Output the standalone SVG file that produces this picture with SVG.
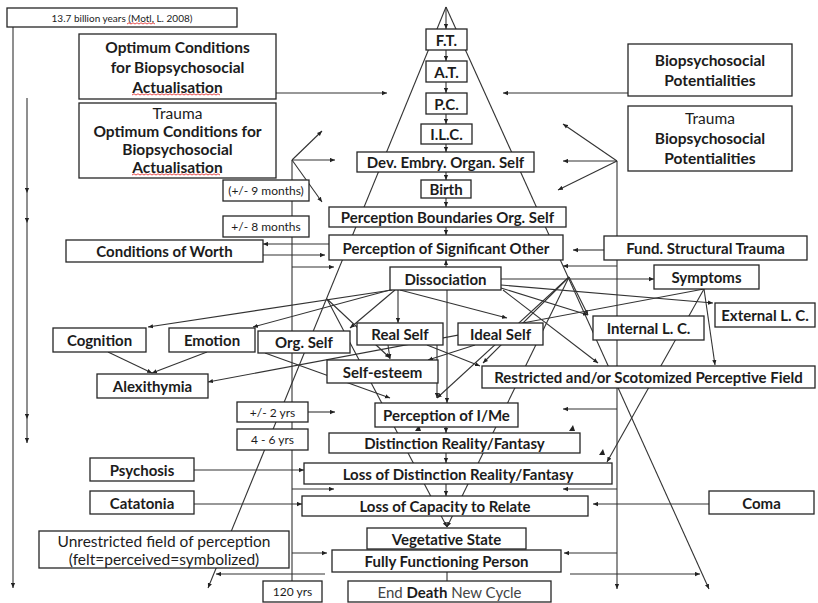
<svg xmlns="http://www.w3.org/2000/svg" width="818" height="603" viewBox="0 0 818 603">
<style>
  .bx { fill: #fff; stroke: #262626; stroke-width: 1.3; }
  .c { fill: none; stroke: #333; stroke-width: 1.1; }
  .a { marker-end: url(#ah); }
  text { font-family: Lato, "Liberation Sans", sans-serif; fill: #1c1c1c; text-anchor: middle; dominant-baseline: central; }
  .b { font-weight: bold; font-size: 15px; }
  .bl { font-weight: bold; font-size: 15.5px; }
  .r { font-size: 15.5px; }
  .s { font-size: 12px; }
  .xs { font-size: 10px; }
  .g { fill: #444; font-size: 15px; }
  .sq { fill: none; stroke: #e02020; stroke-width: 0.8; }
  .tri { fill: #222; }
</style>
<defs>
  <marker id="ah" viewBox="0 0 8 8" refX="8" refY="4" markerWidth="5" markerHeight="5" orient="auto" markerUnits="userSpaceOnUse">
    <path d="M0,0.6 L8,4 L0,7.4 z" fill="#222"/>
  </marker>
</defs>

<rect width="818" height="603" fill="#fff"/>

<!-- connectors, drawn under the boxes -->
<g id="connectors">
  <!-- time axes -->
  <path class="c a" d="M13,27 V588"/>
  <path class="c a" d="M27,98 V193"/>
  <path class="c a" d="M27,193 V223"/>
  <path class="c a" d="M27,223 V419"/>
  <path class="c a" d="M27,419 V443"/>

  <!-- outer pyramid -->
  <path class="c a" d="M446,7 L208,588"/>
  <path class="c a" d="M446,7 L709,589"/>
  <path class="c a" d="M446,7 V29"/>

  <!-- central chain -->
  <path class="c a" d="M446,50 V61"/>
  <path class="c a" d="M446,82 V93"/>
  <path class="c a" d="M446,114 V124"/>
  <path class="c a" d="M446,144 V152"/>
  <path class="c a" d="M446,172 V180"/>
  <path class="c a" d="M446,198 V207"/>
  <path class="c a" d="M446,227 V235"/>
  <path class="c a" d="M446,267 V260"/>
  <path class="c a" d="M447,290 V403"/>
  <path class="c a" d="M446,427 V433"/>
  <path class="c a" d="M446,453 V463"/>
  <path class="c a" d="M446,484 V496"/>
  <path class="c" d="M447,572 V581"/>

  <!-- side inputs at the top -->
  <path class="c a" d="M276,93 H387"/>
  <path class="c a" d="M628,93 H503"/>

  <!-- left and right time rails with their branches -->
  <path class="c" d="M292,160 V581"/>
  <path class="c a" d="M292,160 L322,131"/>
  <path class="c a" d="M292,160 H335"/>
  <path class="c a" d="M292,160 L322,202"/>
  <path class="c a" d="M617,161 V589"/>
  <path class="c a" d="M617,161 L563,124"/>
  <path class="c a" d="M617,161 H563"/>
  <path class="c a" d="M617,161 L558,190"/>

  <!-- conditions of worth / fundamental trauma -->
  <path class="c a" d="M329,244 H263"/>
  <path class="c a" d="M263,255 H325"/>
  <path class="c a" d="M292,267 H334"/>
  <path class="c a" d="M604,250 H573"/>
  <path class="c a" d="M617,266 H563"/>
  <path class="c a" d="M501,279 H654"/>

  <!-- fan out of dissociation -->
  <path class="c a" d="M392,290 L148,327"/>
  <path class="c a" d="M390,290 L253,327"/>
  <path class="c a" d="M395,290 L350,328"/>
  <path class="c a" d="M398,290 V323"/>
  <path class="c a" d="M400,290 L507,318"/>
  <path class="c a" d="M503,290 L598,363"/>
  <path class="c a" d="M501,288 L588,315"/>
  <path class="c a" d="M501,285 L713,303"/>

  <!-- inner funnel and its branches -->
  <path class="c a" d="M327,299 L447,527"/>
  <path class="c a" d="M569,277 L447,527"/>
  <path class="c a" d="M327,299 L390,358"/>
  <path class="c a" d="M569,277 L437,398"/>
  <path class="c a" d="M569,277 L483,363"/>
  <path class="c a" d="M569,277 L588,315"/>

  <!-- symptoms -->
  <path class="c a" d="M704,289 L208,382"/>
  <path class="c a" d="M704,289 L715,365"/>
  <path class="c a" d="M704,289 L607,462"/>

  <!-- self row -->
  <path class="c a" d="M108,352 L152,373"/>
  <path class="c a" d="M207,352 L152,373"/>
  <path class="c a" d="M265,353 L390,398"/>
  <path class="c a" d="M388,345 L390,359"/>
  <path class="c a" d="M475,345 L428,360"/>
  <path class="c a" d="M437,345 V398"/>
  <path class="c a" d="M427,345 L480,366"/>

  <!-- lower left inputs -->
  <path class="c a" d="M308,412 H335"/>
  <path class="c a" d="M194,470 H304"/>
  <path class="c a" d="M292,489 H334"/>
  <path class="c a" d="M194,504 H302"/>
  <path class="c a" d="M292,553 H327"/>
  <path class="c a" d="M325,574 H216"/>

  <!-- lower right inputs -->
  <path class="c a" d="M617,409 H563"/>
  <path class="c a" d="M617,489 H563"/>
  <path class="c a" d="M709,504 H593"/>
  <path class="c a" d="M617,553 H564"/>
  <path class="c a" d="M570,574 H700"/>

  <!-- loose arrowheads -->
  <path class="tri" d="M415,431 L419,425 L421,431 z"/>
  <path class="tri" d="M569,431 L573,425 L575,431 z"/>
  <path class="tri" d="M599,455 L603,449 L605,455 z"/>
</g>

<!-- nodes -->
<g id="years"><rect class="bx" x="7" y="8" width="230" height="19"/><text class="xs" x="122" y="17.5">13.7 billion years (Motl, L. 2008)</text><path class="sq" d="M127,24 l2,-1.2 2,1.2 2,-1.2 2,1.2 2,-1.2 2,1.2 2,-1.2 2,1.2 2,-1.2 2,1.2 2,-1.2 2,1.2 2,-1.2 2,1.2"/></g>

<g id="optimum"><rect class="bx" x="79" y="34" width="197" height="65"/>
  <text class="bl" x="177.5" y="47">Optimum Conditions</text>
  <text class="bl" x="177.5" y="67">for Biopsychosocial</text>
  <text class="bl" x="177.5" y="87">Actualisation</text>
  <path class="sq" d="M132,95 l2,-1.2 2,1.2 2,-1.2 2,1.2 2,-1.2 2,1.2 2,-1.2 2,1.2 2,-1.2 2,1.2 2,-1.2 2,1.2 2,-1.2 2,1.2 2,-1.2 2,1.2 2,-1.2 2,1.2 2,-1.2 2,1.2 2,-1.2 2,1.2 2,-1.2 2,1.2 2,-1.2 2,1.2 2,-1.2 2,1.2 2,-1.2 2,1.2 2,-1.2 2,1.2 2,-1.2 2,1.2 2,-1.2 2,1.2 2,-1.2 2,1.2 2,-1.2 2,1.2 2,-1.2 2,1.2 2,-1.2 2,1.2"/>
</g>

<g id="trauma-optimum"><rect class="bx" x="79" y="103" width="197" height="75"/>
  <text class="r" x="177.5" y="113">Trauma</text>
  <text class="bl" x="177.5" y="131">Optimum Conditions for</text>
  <text class="bl" x="177.5" y="149">Biopsychosocial</text>
  <text class="bl" x="177.5" y="167">Actualisation</text>
  <path class="sq" d="M132,175 l2,-1.2 2,1.2 2,-1.2 2,1.2 2,-1.2 2,1.2 2,-1.2 2,1.2 2,-1.2 2,1.2 2,-1.2 2,1.2 2,-1.2 2,1.2 2,-1.2 2,1.2 2,-1.2 2,1.2 2,-1.2 2,1.2 2,-1.2 2,1.2 2,-1.2 2,1.2 2,-1.2 2,1.2 2,-1.2 2,1.2 2,-1.2 2,1.2 2,-1.2 2,1.2 2,-1.2 2,1.2 2,-1.2 2,1.2 2,-1.2 2,1.2 2,-1.2 2,1.2 2,-1.2 2,1.2 2,-1.2 2,1.2"/>
</g>

<g id="potentialities"><rect class="bx" x="628" y="44" width="164" height="52"/>
  <text class="bl" x="710" y="60">Biopsychosocial</text>
  <text class="bl" x="710" y="80">Potentialities</text>
</g>

<g id="trauma-potentialities"><rect class="bx" x="628" y="106" width="164" height="65"/>
  <text class="r" x="710" y="118">Trauma</text>
  <text class="bl" x="710" y="138">Biopsychosocial</text>
  <text class="bl" x="710" y="158">Potentialities</text>
</g>

<g id="ft"><rect class="bx" x="426" y="29" width="41" height="21"/><text class="b" x="446.5" y="39.5">F.T.</text></g>
<g id="at"><rect class="bx" x="426" y="61" width="41" height="21"/><text class="b" x="446.5" y="71.5">A.T.</text></g>
<g id="pc"><rect class="bx" x="426" y="93" width="41" height="21"/><text class="b" x="446.5" y="103.5">P.C.</text></g>
<g id="ilc"><rect class="bx" x="421" y="124" width="51" height="20"/><text class="b" x="446.5" y="134">I.L.C.</text></g>
<g id="dev"><rect class="bx" x="357" y="152" width="177" height="20"/><text class="b" x="445.5" y="162">Dev. Embry. Organ. Self</text></g>
<g id="birth"><rect class="bx" x="421" y="180" width="50" height="18"/><text class="b" x="446" y="189">Birth</text></g>
<g id="perception-boundaries"><rect class="bx" x="329" y="207" width="237" height="20"/><text class="b" x="447.5" y="217">Perception Boundaries Org. Self</text></g>
<g id="significant-other"><rect class="bx" x="329" y="235" width="234" height="25"/><text class="b" x="446" y="247.5">Perception of Significant Other</text></g>
<g id="dissociation"><rect class="bx" x="390" y="267" width="111" height="23"/><text class="b" x="445.5" y="278.5">Dissociation</text></g>

<g id="conditions-of-worth"><rect class="bx" x="66" y="240" width="197" height="22"/><text class="b" x="164.5" y="251">Conditions of Worth</text></g>
<g id="nine-months"><rect class="bx" x="223" y="180" width="86" height="21"/><text class="s" x="266" y="190.5">(+/- 9 months)</text></g>
<g id="eight-months"><rect class="bx" x="223" y="216" width="86" height="21"/><text class="s" x="266" y="226.5">+/- 8 months</text></g>

<g id="fund-trauma"><rect class="bx" x="604" y="236" width="203" height="24"/><text class="b" x="705.5" y="248">Fund. Structural Trauma</text></g>
<g id="symptoms"><rect class="bx" x="654" y="265" width="105" height="24"/><text class="b" x="706.5" y="277">Symptoms</text></g>
<g id="external-lc"><rect class="bx" x="715" y="303" width="100" height="24"/><text class="b" x="765" y="315">External L. C.</text></g>
<g id="internal-lc"><rect class="bx" x="593" y="316" width="111" height="24"/><text class="b" x="648.5" y="328">Internal L. C.</text></g>

<g id="cognition"><rect class="bx" x="53" y="328" width="93" height="24"/><text class="b" x="99.5" y="340">Cognition</text></g>
<g id="emotion"><rect class="bx" x="169" y="328" width="86" height="24"/><text class="b" x="212" y="340">Emotion</text></g>
<g id="org-self"><rect class="bx" x="258" y="331" width="92" height="22"/><text class="b" x="304" y="342">Org. Self</text></g>
<g id="real-self"><rect class="bx" x="357" y="323" width="86" height="22"/><text class="b" x="400" y="334">Real Self</text></g>
<g id="ideal-self"><rect class="bx" x="458" y="323" width="85" height="22"/><text class="b" x="500.5" y="334">Ideal Self</text></g>
<g id="alexithymia"><rect class="bx" x="97" y="374" width="111" height="24"/><text class="b" x="152.5" y="386">Alexithymia</text></g>
<g id="self-esteem"><rect class="bx" x="327" y="360" width="111" height="23"/><text class="b" x="382.5" y="371.5">Self-esteem</text></g>
<g id="restricted-field"><rect class="bx" x="482" y="366" width="333" height="22"/><text class="b" x="648.5" y="377">Restricted and/or Scotomized Perceptive Field</text></g>

<g id="two-yrs"><rect class="bx" x="237" y="402" width="71" height="20"/><text class="s" x="272.5" y="412">+/- 2 yrs</text></g>
<g id="four-six-yrs"><rect class="bx" x="237" y="429" width="71" height="21"/><text class="s" x="272.5" y="439.5">4 - 6 yrs</text></g>
<g id="perception-ime"><rect class="bx" x="375" y="403" width="143" height="24"/><text class="b" x="446.5" y="415">Perception of I/Me</text></g>
<g id="distinction"><rect class="bx" x="329" y="433" width="251" height="20"/><text class="b" x="454.5" y="443">Distinction Reality/Fantasy</text></g>
<g id="loss-distinction"><rect class="bx" x="304" y="463" width="308" height="21"/><text class="b" x="458" y="473.5">Loss of Distinction Reality/Fantasy</text></g>
<g id="loss-capacity"><rect class="bx" x="302" y="496" width="286" height="20"/><text class="b" x="445" y="506">Loss of Capacity to Relate</text></g>
<g id="vegetative"><rect class="bx" x="367" y="528" width="159" height="21"/><text class="b" x="446.5" y="538.5">Vegetative State</text></g>
<g id="fully-functioning"><rect class="bx" x="332" y="550" width="229" height="22"/><text class="b" x="446.5" y="561">Fully Functioning Person</text></g>
<g id="end-death"><rect class="bx" x="348" y="581" width="203" height="21"/><text class="g" x="449.5" y="591.5">End <tspan font-weight="bold" fill="#1c1c1c">Death</tspan> New Cycle</text></g>
<g id="hundred-twenty"><rect class="bx" x="263" y="581" width="59" height="21"/><text class="s" x="292.5" y="591.5">120 yrs</text></g>

<g id="psychosis"><rect class="bx" x="90" y="458" width="104" height="23"/><text class="b" x="142" y="469.5">Psychosis</text></g>
<g id="catatonia"><rect class="bx" x="90" y="491" width="104" height="23"/><text class="b" x="142" y="502.5">Catatonia</text></g>
<g id="unrestricted"><rect class="bx" x="39" y="531" width="250" height="37"/>
  <text class="r" x="164" y="541">Unrestricted field of perception</text>
  <text class="r" x="164" y="559">(felt=perceived=symbolized)</text>
</g>
<g id="coma"><rect class="bx" x="709" y="491" width="105" height="23"/><text class="b" x="761.5" y="502.5">Coma</text></g>
</svg>
